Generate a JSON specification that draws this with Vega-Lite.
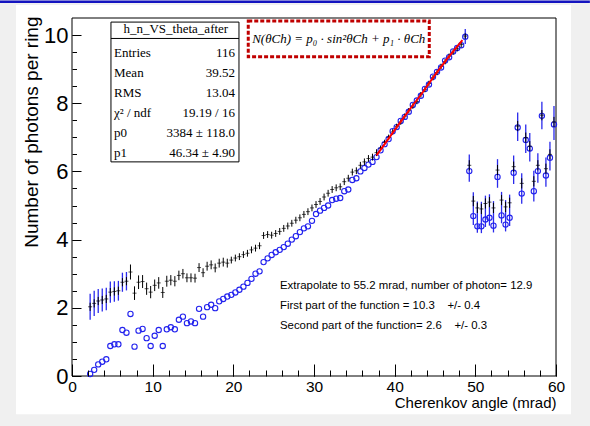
{
  "$schema": "https://vega.github.io/schema/vega-lite/v6.json",
  "width": 484,
  "height": 358,
  "autosize": {"type": "none"},
  "padding": {"left": 72, "top": 18, "right": 34, "bottom": 50},
  "background": "#f0f0f0",
  "config": {"view": {"stroke": null}},
  "resolve": {"axis": {"x": "independent", "y": "independent"}},
  "data": {"values": [{}]},
  "datasets": {
    "pts": [
      {"theta": 2.25, "nA": 2.03, "eA": 0.12, "nB": 0.06},
      {"theta": 2.75, "nA": 2.13, "eA": 0.12, "nB": 0.18},
      {"theta": 3.25, "nA": 2.20, "eA": 0.12, "nB": 0.34},
      {"theta": 3.75, "nA": 2.23, "eA": 0.12, "nB": 0.42},
      {"theta": 4.25, "nA": 2.26, "eA": 0.12, "nB": 0.49},
      {"theta": 4.75, "nA": 2.46, "eA": 0.12, "nB": 0.88},
      {"theta": 5.25, "nA": 2.48, "eA": 0.12, "nB": 0.93},
      {"theta": 5.75, "nA": 2.50, "eA": 0.12, "nB": 0.93},
      {"theta": 6.25, "nA": 2.75, "eA": 0.12, "nB": 1.35},
      {"theta": 6.75, "nA": 2.78, "eA": 0.12, "nB": 1.27},
      {"theta": 7.25, "nA": 3.05, "eA": 0.22, "nB": 1.82},
      {"theta": 7.75, "nA": 2.43, "eA": 0.20, "nB": 0.86},
      {"theta": 8.25, "nA": 2.75, "eA": 0.20, "nB": 1.33},
      {"theta": 8.75, "nA": 2.77, "eA": 0.19, "nB": 1.38},
      {"theta": 9.25, "nA": 2.56, "eA": 0.18, "nB": 1.11},
      {"theta": 9.75, "nA": 2.46, "eA": 0.18, "nB": 0.88},
      {"theta": 10.25, "nA": 2.66, "eA": 0.17, "nB": 1.18},
      {"theta": 10.75, "nA": 2.73, "eA": 0.17, "nB": 1.35},
      {"theta": 11.25, "nA": 2.45, "eA": 0.16, "nB": 0.88},
      {"theta": 11.75, "nA": 2.78, "eA": 0.16, "nB": 1.37},
      {"theta": 12.25, "nA": 2.81, "eA": 0.15, "nB": 1.43},
      {"theta": 12.75, "nA": 2.78, "eA": 0.15, "nB": 1.37},
      {"theta": 13.25, "nA": 2.95, "eA": 0.14, "nB": 1.65},
      {"theta": 13.75, "nA": 3.00, "eA": 0.14, "nB": 1.74},
      {"theta": 14.25, "nA": 2.88, "eA": 0.13, "nB": 1.55},
      {"theta": 14.75, "nA": 2.88, "eA": 0.13, "nB": 1.60},
      {"theta": 15.25, "nA": 2.87, "eA": 0.13, "nB": 1.55},
      {"theta": 15.75, "nA": 3.18, "eA": 0.13, "nB": 1.97},
      {"theta": 16.25, "nA": 3.03, "eA": 0.13, "nB": 1.74},
      {"theta": 16.75, "nA": 3.22, "eA": 0.13, "nB": 2.02},
      {"theta": 17.25, "nA": 3.26, "eA": 0.13, "nB": 2.09},
      {"theta": 17.75, "nA": 3.17, "eA": 0.13, "nB": 1.99},
      {"theta": 18.25, "nA": 3.31, "eA": 0.13, "nB": 2.19},
      {"theta": 18.75, "nA": 3.34, "eA": 0.13, "nB": 2.26},
      {"theta": 19.25, "nA": 3.31, "eA": 0.13, "nB": 2.33},
      {"theta": 19.75, "nA": 3.40, "eA": 0.10, "nB": 2.38},
      {"theta": 20.25, "nA": 3.46, "eA": 0.10, "nB": 2.45},
      {"theta": 20.75, "nA": 3.50, "eA": 0.10, "nB": 2.53},
      {"theta": 21.25, "nA": 3.56, "eA": 0.10, "nB": 2.62},
      {"theta": 21.75, "nA": 3.60, "eA": 0.10, "nB": 2.73},
      {"theta": 22.25, "nA": 3.70, "eA": 0.10, "nB": 2.85},
      {"theta": 22.75, "nA": 3.75, "eA": 0.10, "nB": 3.00},
      {"theta": 23.25, "nA": 3.82, "eA": 0.10, "nB": 3.07},
      {"theta": 23.75, "nA": 4.12, "eA": 0.10, "nB": 3.34},
      {"theta": 24.25, "nA": 4.15, "eA": 0.10, "nB": 3.45},
      {"theta": 24.75, "nA": 4.13, "eA": 0.10, "nB": 3.55},
      {"theta": 25.25, "nA": 4.18, "eA": 0.10, "nB": 3.63},
      {"theta": 25.75, "nA": 4.24, "eA": 0.10, "nB": 3.70},
      {"theta": 26.25, "nA": 4.33, "eA": 0.10, "nB": 3.78},
      {"theta": 26.75, "nA": 4.40, "eA": 0.10, "nB": 3.88},
      {"theta": 27.25, "nA": 4.48, "eA": 0.10, "nB": 4.00},
      {"theta": 27.75, "nA": 4.57, "eA": 0.10, "nB": 4.10},
      {"theta": 28.25, "nA": 4.64, "eA": 0.10, "nB": 4.22},
      {"theta": 28.75, "nA": 4.74, "eA": 0.10, "nB": 4.33},
      {"theta": 29.25, "nA": 4.82, "eA": 0.10, "nB": 4.39},
      {"theta": 29.75, "nA": 4.93, "eA": 0.10, "nB": 4.55},
      {"theta": 30.25, "nA": 5.03, "eA": 0.10, "nB": 4.75},
      {"theta": 30.75, "nA": 5.12, "eA": 0.10, "nB": 4.85},
      {"theta": 31.25, "nA": 5.25, "eA": 0.10, "nB": 4.93},
      {"theta": 31.75, "nA": 5.36, "eA": 0.10, "nB": 5.00},
      {"theta": 32.25, "nA": 5.47, "eA": 0.10, "nB": 5.16},
      {"theta": 32.75, "nA": 5.52, "eA": 0.10, "nB": 5.20},
      {"theta": 33.25, "nA": 5.55, "eA": 0.10, "nB": 5.22},
      {"theta": 33.75, "nA": 5.70, "eA": 0.10, "nB": 5.42},
      {"theta": 34.25, "nA": 5.80, "eA": 0.10, "nB": 5.47},
      {"theta": 34.75, "nA": 5.98, "eA": 0.10, "nB": 5.75},
      {"theta": 35.25, "nA": 6.02, "eA": 0.10, "nB": 5.80},
      {"theta": 35.75, "nA": 6.18, "eA": 0.10, "nB": 6.00},
      {"theta": 36.25, "nA": 6.28, "eA": 0.10, "nB": 6.10},
      {"theta": 36.75, "nA": 6.38, "eA": 0.10, "nB": 6.20},
      {"theta": 37.25, "nA": 6.42, "eA": 0.10, "nB": 6.28},
      {"theta": 37.75, "nA": 6.55, "eA": 0.10, "nB": 6.42},
      {"theta": 38.25, "nA": 6.68, "eA": 0.08, "nB": 6.62},
      {"theta": 38.75, "nA": 6.85, "eA": 0.08, "nB": 6.80},
      {"theta": 39.25, "nA": 7.00, "eA": 0.08, "nB": 6.95},
      {"theta": 39.75, "nA": 7.16, "eA": 0.08, "nB": 7.18},
      {"theta": 40.25, "nA": 7.32, "eA": 0.08, "nB": 7.30},
      {"theta": 40.75, "nA": 7.45, "eA": 0.08, "nB": 7.48},
      {"theta": 41.25, "nA": 7.62, "eA": 0.08, "nB": 7.60},
      {"theta": 41.75, "nA": 7.78, "eA": 0.08, "nB": 7.75},
      {"theta": 42.25, "nA": 7.92, "eA": 0.08, "nB": 7.95},
      {"theta": 42.75, "nA": 8.05, "eA": 0.08, "nB": 8.08},
      {"theta": 43.25, "nA": 8.25, "eA": 0.08, "nB": 8.22},
      {"theta": 43.75, "nA": 8.40, "eA": 0.08, "nB": 8.42},
      {"theta": 44.25, "nA": 8.58, "eA": 0.08, "nB": 8.55},
      {"theta": 44.75, "nA": 8.75, "eA": 0.08, "nB": 8.78},
      {"theta": 45.25, "nA": 8.90, "eA": 0.08, "nB": 8.92},
      {"theta": 45.75, "nA": 9.08, "eA": 0.08, "nB": 9.05},
      {"theta": 46.25, "nA": 9.22, "eA": 0.08, "nB": 9.25},
      {"theta": 46.75, "nA": 9.38, "eA": 0.08, "nB": 9.35},
      {"theta": 47.25, "nA": 9.50, "eA": 0.08, "nB": 9.52},
      {"theta": 47.75, "nA": 9.60, "eA": 0.08, "nB": 9.62},
      {"theta": 48.25, "nA": 9.72, "eA": 0.08, "nB": 9.70},
      {"theta": 48.75, "nA": 9.97, "eA": 0.08, "nB": 9.95},
      {"theta": 49.25, "nA": 6.18, "eA": 0.15, "nB": 6.01},
      {"theta": 49.75, "nA": 5.13, "eA": 0.15, "nB": 4.69},
      {"theta": 50.25, "nA": 4.93, "eA": 0.15, "nB": 4.39},
      {"theta": 50.75, "nA": 4.90, "eA": 0.15, "nB": 4.39},
      {"theta": 51.25, "nA": 5.06, "eA": 0.15, "nB": 4.59},
      {"theta": 51.75, "nA": 5.10, "eA": 0.15, "nB": 4.64},
      {"theta": 52.25, "nA": 4.93, "eA": 0.15, "nB": 4.41},
      {"theta": 52.75, "nA": 6.04, "eA": 0.15, "nB": 5.84},
      {"theta": 53.25, "nA": 5.16, "eA": 0.15, "nB": 4.71},
      {"theta": 53.75, "nA": 4.96, "eA": 0.15, "nB": 4.44},
      {"theta": 54.25, "nA": 5.08, "eA": 0.15, "nB": 4.64},
      {"theta": 54.75, "nA": 6.14, "eA": 0.15, "nB": 5.96},
      {"theta": 55.25, "nA": 7.33, "eA": 0.15, "nB": 7.29},
      {"theta": 55.75, "nA": 5.65, "eA": 0.15, "nB": 5.35},
      {"theta": 56.25, "nA": 6.99, "eA": 0.15, "nB": 6.92},
      {"theta": 56.75, "nA": 6.74, "eA": 0.15, "nB": 6.67},
      {"theta": 57.25, "nA": 5.71, "eA": 0.15, "nB": 5.42},
      {"theta": 57.75, "nA": 6.18, "eA": 0.15, "nB": 6.01},
      {"theta": 58.25, "nA": 7.65, "eA": 0.15, "nB": 7.63},
      {"theta": 58.75, "nA": 6.08, "eA": 0.15, "nB": 5.88},
      {"theta": 59.25, "nA": 6.50, "eA": 0.15, "nB": 6.40},
      {"theta": 59.75, "nA": 7.45, "eA": 0.15, "nB": 7.38}
    ],
    "blueErr": [
      {"theta": 2.25, "c": 2.03, "e": 0.38},
      {"theta": 2.75, "c": 2.13, "e": 0.37},
      {"theta": 3.25, "c": 2.20, "e": 0.35},
      {"theta": 3.75, "c": 2.23, "e": 0.34},
      {"theta": 4.25, "c": 2.26, "e": 0.33},
      {"theta": 4.75, "c": 2.46, "e": 0.31},
      {"theta": 5.25, "c": 2.48, "e": 0.30},
      {"theta": 5.75, "c": 2.50, "e": 0.29},
      {"theta": 6.25, "c": 2.75, "e": 0.28},
      {"theta": 6.75, "c": 2.78, "e": 0.27},
      {"theta": 48.75, "c": 9.96, "e": 0.22},
      {"theta": 49.25, "c": 6.10, "e": 0.40},
      {"theta": 49.75, "c": 4.91, "e": 0.48},
      {"theta": 50.25, "c": 4.66, "e": 0.46},
      {"theta": 50.75, "c": 4.65, "e": 0.46},
      {"theta": 51.25, "c": 4.83, "e": 0.46},
      {"theta": 51.75, "c": 4.87, "e": 0.46},
      {"theta": 52.25, "c": 4.67, "e": 0.46},
      {"theta": 52.75, "c": 5.94, "e": 0.42},
      {"theta": 53.25, "c": 4.94, "e": 0.46},
      {"theta": 53.75, "c": 4.70, "e": 0.46},
      {"theta": 54.25, "c": 4.86, "e": 0.46},
      {"theta": 54.75, "c": 6.05, "e": 0.42},
      {"theta": 55.25, "c": 7.31, "e": 0.42},
      {"theta": 55.75, "c": 5.50, "e": 0.45},
      {"theta": 56.25, "c": 6.96, "e": 0.42},
      {"theta": 56.75, "c": 6.71, "e": 0.42},
      {"theta": 57.25, "c": 5.57, "e": 0.45},
      {"theta": 57.75, "c": 6.10, "e": 0.43},
      {"theta": 58.25, "c": 7.64, "e": 0.40},
      {"theta": 58.75, "c": 5.98, "e": 0.43},
      {"theta": 59.25, "c": 6.45, "e": 0.42},
      {"theta": 59.75, "c": 7.42, "e": 0.50}
    ],
    "fit": [
      {"theta": 37.75, "n": 6.47},
      {"theta": 39.0, "n": 6.88},
      {"theta": 40.5, "n": 7.38},
      {"theta": 42.0, "n": 7.86},
      {"theta": 43.5, "n": 8.33},
      {"theta": 45.0, "n": 8.83},
      {"theta": 46.5, "n": 9.30},
      {"theta": 48.4, "n": 9.85}
    ]
  },
  "layer": [
    {
      "mark": {"type": "rect", "fill": "white"},
      "encoding": {
        "x": {"datum": -6.94, "type": "quantitative", "scale": {"domain": [0, 60], "nice": false, "zero": false}, "axis": null},
        "x2": {"datum": 61.86},
        "y": {"datum": -1.12, "type": "quantitative", "scale": {"domain": [0, 10.5], "nice": false, "zero": false}, "axis": null},
        "y2": {"datum": 10.88}
      }
    },
    {
      "mark": {"type": "rule", "color": "#1414c0", "strokeWidth": 2.5},
      "encoding": {"x": {"datum": -8.93, "axis": null}, "x2": {"datum": 64.2}, "y": {"datum": 10.98, "axis": null}}
    },
    {
      "mark": {"type": "rect", "fillOpacity": 0, "stroke": "black", "strokeWidth": 1},
      "encoding": {
        "x": {"datum": 0, "axis": {
          "orient": "bottom",
          "values": [0, 2, 4, 6, 8, 10, 12, 14, 16, 18, 20, 22, 24, 26, 28, 30, 32, 34, 36, 38, 40, 42, 44, 46, 48, 50, 52, 54, 56, 58, 60],
          "tickSize": -6, "labels": false, "title": null, "domain": false, "grid": false, "zindex": 1, "tickColor": "black"
        }},
        "x2": {"datum": 60},
        "y": {"datum": 0, "axis": {
          "orient": "left",
          "values": [0, 0.5, 1, 1.5, 2, 2.5, 3, 3.5, 4, 4.5, 5, 5.5, 6, 6.5, 7, 7.5, 8, 8.5, 9, 9.5, 10],
          "tickSize": -4.5, "labels": false, "title": null, "domain": false, "grid": false, "zindex": 1, "tickColor": "black"
        }},
        "y2": {"datum": 10.5}
      }
    },
    {
      "data": {"name": "blueErr"},
      "mark": {"type": "errorbar", "color": "#2a2aec", "thickness": 1.3},
      "encoding": {
        "x": {"field": "theta", "type": "quantitative", "axis": null},
        "y": {"field": "c", "type": "quantitative", "axis": null},
        "yError": {"field": "e"}
      }
    },
    {
      "data": {"name": "pts"},
      "mark": {"type": "point", "shape": "circle", "filled": false, "color": "#2222ee", "size": 28, "strokeWidth": 1.1, "opacity": 1},
      "encoding": {
        "x": {
          "field": "theta", "type": "quantitative",
          "axis": {
            "orient": "bottom",
            "values": [0, 10, 20, 30, 40, 50, 60],
            "tickSize": -12,
            "labelPadding": 15,
            "domain": false, "grid": false, "zindex": 1,
            "tickColor": "black", "labelColor": "black",
            "labelFont": "Liberation Sans", "labelFontSize": 15.5,
            "labelFlush": false, "labelOverlap": false,
            "title": "Cherenkov angle (mrad)",
            "titleFont": "Liberation Sans", "titleFontSize": 15, "titleFontWeight": "normal", "titleColor": "black",
            "titleX": 484, "titleY": 26, "titleAlign": "right", "titleBaseline": "middle", "titleAnchor": null
          }
        },
        "y": {
          "field": "nB", "type": "quantitative",
          "axis": {
            "orient": "left",
            "values": [0, 2, 4, 6, 8, 10],
            "tickSize": -9,
            "labelPadding": 13,
            "domain": false, "grid": false, "zindex": 1,
            "tickColor": "black", "labelColor": "black",
            "labelFont": "Liberation Sans", "labelFontSize": 22,
            "labelOverlap": false, "labelFlush": false,
            "title": "Number of photons per ring",
            "titleFont": "Liberation Sans", "titleFontSize": 19, "titleFontWeight": "normal", "titleColor": "black",
            "titleX": -40.5, "titleY": -2, "titleAngle": 270, "titleAlign": "right", "titleBaseline": "middle", "titleAnchor": null
          }
        }
      }
    },
    {
      "data": {"name": "pts"},
      "mark": {"type": "errorbar", "color": "black", "thickness": 1},
      "encoding": {
        "x": {"field": "theta", "type": "quantitative", "axis": null},
        "y": {"field": "nA", "type": "quantitative", "axis": null},
        "yError": {"field": "eA"}
      }
    },
    {
      "data": {"name": "pts"},
      "mark": {"type": "tick", "orient": "horizontal", "color": "black", "size": 4, "thickness": 1},
      "encoding": {
        "x": {"field": "theta", "type": "quantitative", "axis": null},
        "y": {"field": "nA", "type": "quantitative", "axis": null}
      }
    },
    {
      "data": {"name": "fit"},
      "mark": {"type": "line", "color": "#ff0000", "strokeWidth": 2},
      "encoding": {
        "x": {"field": "theta", "type": "quantitative", "axis": null},
        "y": {"field": "n", "type": "quantitative", "axis": null}
      }
    },
    {
      "mark": {"type": "rect", "fill": "white", "stroke": "black", "strokeWidth": 1},
      "encoding": {"x": {"datum": 4.83, "axis": null}, "x2": {"datum": 20.7}, "y": {"datum": 10.38, "axis": null}, "y2": {"datum": 6.28}}
    },
    {
      "mark": {"type": "rule", "color": "black", "strokeWidth": 1},
      "encoding": {"x": {"datum": 4.83, "axis": null}, "x2": {"datum": 20.7}, "y": {"datum": 9.9, "axis": null}}
    },
    {
      "mark": {"type": "text", "text": "h_n_VS_theta_after", "font": "Liberation Serif", "fontSize": 13, "align": "center", "baseline": "alphabetic", "color": "black"},
      "encoding": {"x": {"datum": 12.87, "axis": null}, "y": {"datum": 10.05, "axis": null}}
    },
    {
      "mark": {"type": "text", "text": ["Entries", "Mean", "RMS", "χ² / ndf", "p0", "p1"], "lineHeight": 20, "font": "Liberation Serif", "fontSize": 13, "align": "left", "baseline": "alphabetic", "color": "black"},
      "encoding": {"x": {"datum": 5.21, "axis": null}, "y": {"datum": 9.37, "axis": null}}
    },
    {
      "mark": {"type": "text", "text": ["116", "39.52", "13.04", "19.19 / 16", "3384 ± 118.0", "46.34 ± 4.90"], "lineHeight": 20, "font": "Liberation Serif", "fontSize": 13, "align": "right", "baseline": "alphabetic", "color": "black"},
      "encoding": {"x": {"datum": 20.2, "axis": null}, "y": {"datum": 9.37, "axis": null}}
    },
    {
      "mark": {"type": "rect", "fill": "white", "stroke": "#c00000", "strokeWidth": 3, "strokeDash": [4, 2]},
      "encoding": {"x": {"datum": 21.85, "axis": null}, "x2": {"datum": 44.29}, "y": {"datum": 10.41, "axis": null}, "y2": {"datum": 9.36}}
    },
    {
      "mark": {"type": "text", "text": "N(θCh) = p₀ · sin²θCh + p₁ · θCh", "font": "Liberation Serif", "fontStyle": "italic", "fontSize": 13, "align": "center", "baseline": "middle", "color": "black"},
      "encoding": {"x": {"datum": 33.07, "axis": null}, "y": {"datum": 9.88, "axis": null}}
    },
    {
      "mark": {"type": "text", "text": ["Extrapolate to 55.2 mrad, number of photon= 12.9", "First part of the function = 10.3\u00a0\u00a0\u00a0 +/- 0.4", "Second part of the function= 2.6\u00a0\u00a0\u00a0 +/- 0.3"], "lineHeight": 20, "font": "Liberation Sans", "fontSize": 11.4, "align": "left", "baseline": "alphabetic", "color": "black"},
      "encoding": {"x": {"datum": 25.78, "axis": null}, "y": {"datum": 2.54, "axis": null}}
    }
  ]
}
